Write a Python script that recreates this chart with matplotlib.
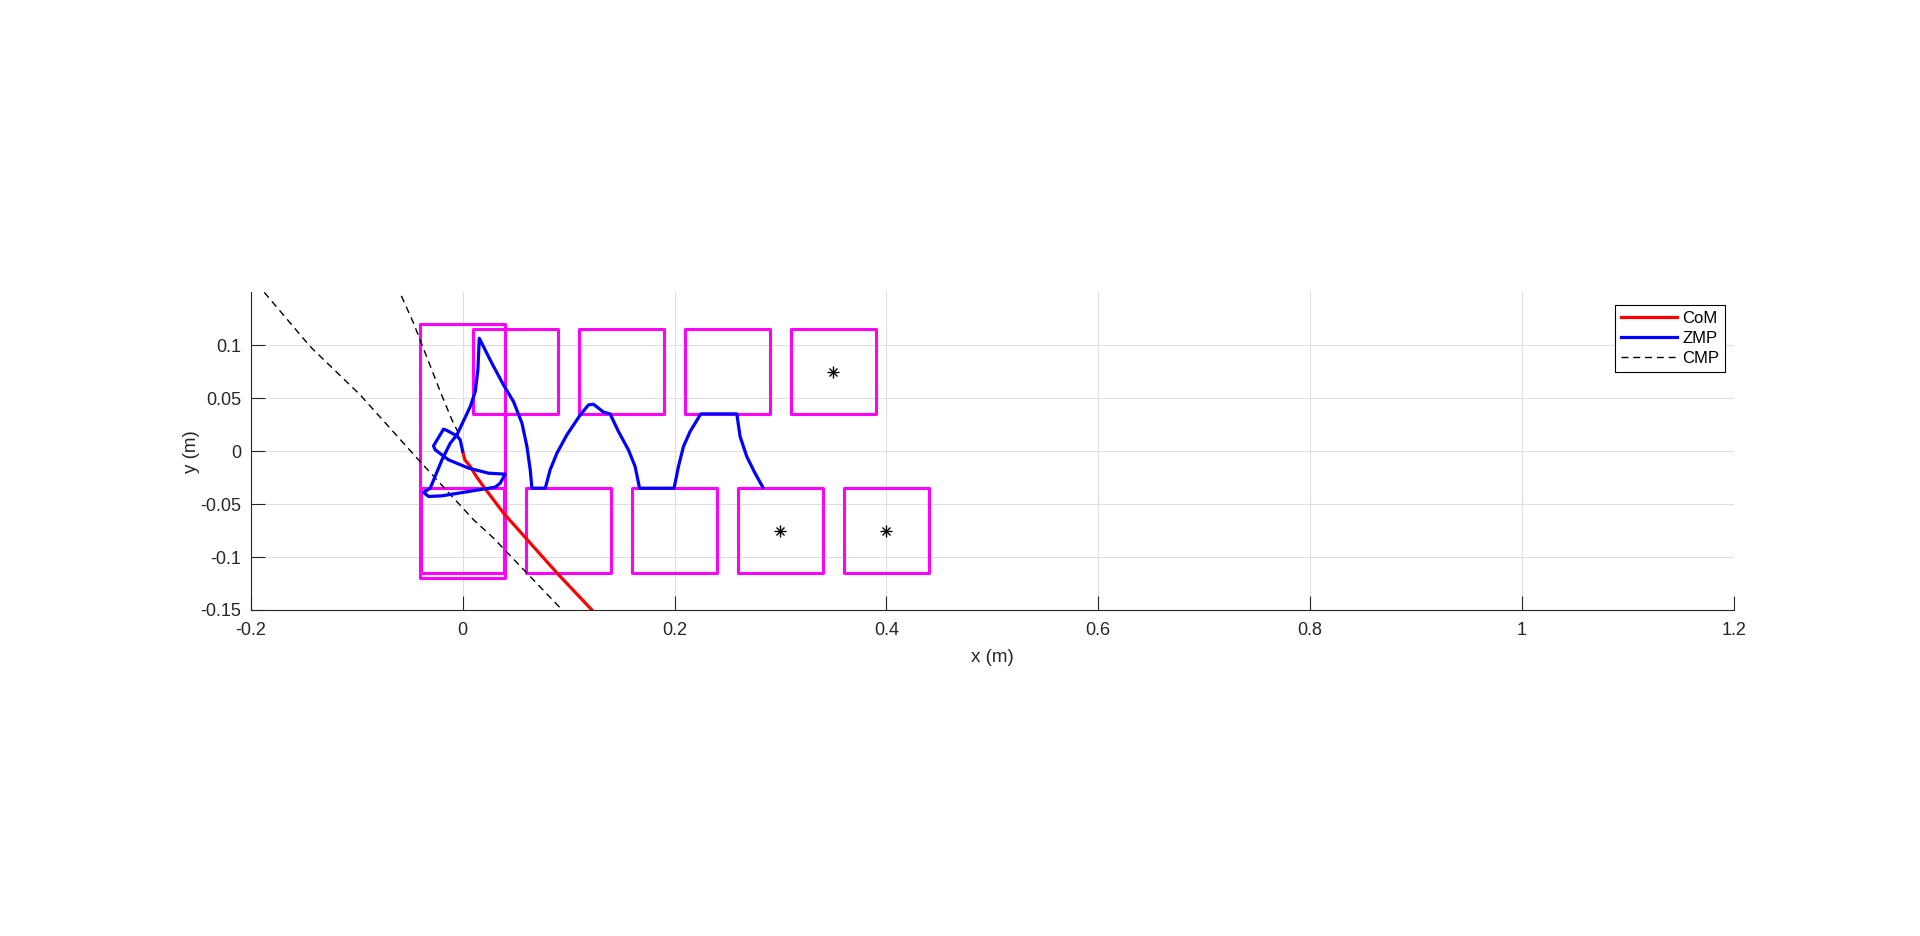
import matplotlib
matplotlib.use('Agg')
import matplotlib.pyplot as plt
from matplotlib.patches import Rectangle

plt.rcParams['font.family'] = ['Liberation Sans', 'DejaVu Sans']

# CoM trajectory
com_x = [0.0, 0.002, 0.0072, 0.013, 0.0197, 0.0386, 0.0638, 0.089, 0.122, 0.135]
com_y = [0.0, -0.008, -0.0145, -0.024, -0.0334, -0.0585, -0.0868, -0.115, -0.150, -0.165]

# ZMP trajectory
zmp_x = [0.0, -0.0023, -0.0054, -0.0148, -0.018, -0.0275, -0.0258, -0.0133, 0.0056, 0.0244,
         0.0402, 0.0355, 0.0308, 0.0056, -0.0195, -0.0322, -0.0369, -0.0306,
         -0.0195, -0.0117, -0.0054, 0.0072, 0.0119, 0.0144, 0.0157,
         0.0276, 0.0386, 0.048, 0.056, 0.0607, 0.0638, 0.0654, 0.078,
         0.0826, 0.089, 0.0984, 0.111, 0.1188, 0.1235, 0.1282, 0.133, 0.1392, 0.1471,
         0.1565, 0.1628, 0.167, 0.1996,
         0.2037, 0.2084, 0.2147, 0.2248, 0.2588, 0.2619, 0.2682, 0.276, 0.2833]
zmp_y = [0.0, 0.0107, 0.0144, 0.0195, 0.0208, 0.005, 0.0012, -0.0082, -0.016, -0.0208,
         -0.0217, -0.0302, -0.034, -0.0381, -0.0422, -0.0428, -0.039, -0.035,
         -0.0082, 0.0075, 0.0154, 0.0421, 0.0562, 0.0767, 0.1066,
         0.083, 0.0625, 0.0468, 0.0264, 0.0043, -0.0176, -0.035, -0.035,
         -0.0176, -0.0019, 0.0154, 0.0342, 0.0437, 0.0443, 0.0406, 0.0368, 0.0352, 0.0185,
         0.0012, -0.0145, -0.035, -0.035,
         -0.0145, 0.0043, 0.0185, 0.0352, 0.0352, 0.0138, -0.0051, -0.0208, -0.034]

# CMP trajectory (two visible pieces)
cmp1_x = [-0.195, -0.1878, -0.1438, -0.0967, -0.0431, 0.0103, 0.029, 0.0937, 0.10]
cmp1_y = [0.158, 0.1506, 0.0987, 0.0531, -0.0066, -0.0648, -0.082, -0.1497, -0.156]
cmp2_x = [-0.062, -0.0589, -0.0463, -0.0211, -0.0101, -0.0039, 0.0]
cmp2_y = [0.157, 0.149, 0.1208, 0.0562, 0.0295, 0.017, 0.0]

# footsteps: centre x, centre y, width, height
foot_cx = [0.0, 0.0, 0.05, 0.15, 0.25, 0.35, 0.10, 0.20, 0.30, 0.40]
foot_cy = [0.0, -0.075, 0.075, 0.075, 0.075, 0.075, -0.075, -0.075, -0.075, -0.075]
foot_w = [0.08, 0.078, 0.08, 0.08, 0.08, 0.08, 0.08, 0.08, 0.08, 0.08]
foot_h = [0.24, 0.08, 0.08, 0.08, 0.08, 0.08, 0.08, 0.08, 0.08, 0.08]

# step targets
star_x = [0.35, 0.30, 0.40]
star_y = [0.075, -0.075, -0.075]

xticks = [-0.2, 0, 0.2, 0.4, 0.6, 0.8, 1.0, 1.2]
xticklabels = ['-0.2', '0', '0.2', '0.4', '0.6', '0.8', '1', '1.2']
yticks = [-0.15, -0.1, -0.05, 0, 0.05, 0.1]
yticklabels = ['-0.15', '-0.1', '-0.05', '0', '0.05', '0.1']

fig = plt.figure(figsize=(19.2, 9.36), dpi=100)
ax = fig.add_axes([0.1306, 0.3483, 0.7725, 0.3394])

for cx, cy, w, h in zip(foot_cx, foot_cy, foot_w, foot_h):
    ax.add_patch(Rectangle((cx - w / 2, cy - h / 2), w, h, fill=False,
                           edgecolor='#ff00ff', lw=2.2, joinstyle='round', zorder=2))

ax.plot(com_x, com_y, '-', color='#ff0000', lw=2.3, label='CoM', zorder=3)
ax.plot(zmp_x, zmp_y, '-', color='#0000ff', lw=2.3, label='ZMP', zorder=4,
        solid_joinstyle='round')
ax.plot(cmp1_x, cmp1_y, '--', color='black', lw=1.0, dashes=(5, 3.5), label='CMP', zorder=3)
ax.plot(cmp2_x, cmp2_y, '--', color='black', lw=1.0, dashes=(5, 3.5), zorder=3)
ax.plot(star_x, star_y, '+', color='black', ms=8, mew=1.0, zorder=5)
ax.plot(star_x, star_y, 'x', color='black', ms=6, mew=1.0, zorder=5)

ax.set_xlim(-0.2, 1.2)
ax.set_ylim(-0.15, 0.15)
ax.set_xticks(xticks)
ax.set_xticklabels(xticklabels)
ax.set_yticks(yticks)
ax.set_yticklabels(yticklabels)
ax.grid(True, color='#dfdfdf', lw=0.8)
ax.set_axisbelow(True)
for s in ['top', 'right']:
    ax.spines[s].set_visible(False)
for s in ['left', 'bottom']:
    ax.spines[s].set_color('#262626')
    ax.spines[s].set_linewidth(0.8)
ax.tick_params(direction='in', length=10, width=0.8, colors='#262626',
               labelsize=13, pad=7)
ax.tick_params(axis='x', pad=9)
ax.set_xlabel('x (m)', fontsize=13.5, color='#262626', labelpad=7)
ax.set_ylabel('y (m)', fontsize=13.5, color='#262626', labelpad=0)

leg = ax.legend(loc='upper right', bbox_to_anchor=(0.994, 0.96), fontsize=12,
                frameon=True, fancybox=False, framealpha=1, edgecolor='black',
                handlelength=3.4, handletextpad=0.3, borderpad=0.35, labelspacing=0.3,
                borderaxespad=0)
leg.get_frame().set_linewidth(0.8)
for line in leg.get_lines():
    line.set_linewidth(2.3 if line.get_linestyle() == '-' else 1.0)

fig.savefig('out.png', dpi=100)
